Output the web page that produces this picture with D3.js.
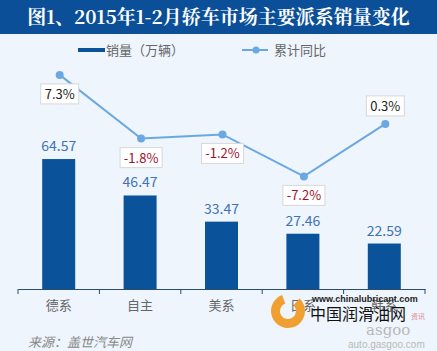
<!DOCTYPE html>
<html>
<head>
<meta charset="utf-8">
<script src="https://cdn.jsdelivr.net/npm/d3@7"></script>
<style>
  html, body { margin: 0; padding: 0; background: #eef5fc; }
  svg { display: block; font-family: "Noto Sans CJK SC", "Noto Sans", sans-serif; }
</style>
</head>
<body>
<div id="chart"></div>
<script>
"use strict";

const categories = ["德系", "自主", "美系", "日系", "韩系"];
const sales = [64.57, 46.47, 33.47, 27.46, 22.59];
const growth = [7.3, -1.8, -1.2, -7.2, 0.3];
const growthLabels = ["7.3%", "-1.8%", "-1.2%", "-7.2%", "0.3%"];
const labelAbove = [false, false, false, false, true];

const width = 437, height = 351;

const svg = d3.select("#chart").append("svg")
    .attr("width", width)
    .attr("height", height);

/* Background and title band */
svg.append("rect").attr("width", width).attr("height", height).attr("fill", "#eef5fc");
svg.append("rect").attr("width", width).attr("height", 34).attr("fill", "#0a4f97");
svg.append("text")
    .attr("x", width / 2).attr("y", 24)
    .attr("text-anchor", "middle")
    .attr("fill", "#fff")
    .attr("font-size", 19)
    .attr("font-weight", "bold")
    .attr("font-family", "'Noto Serif CJK SC', 'Noto Sans CJK SC', serif")
    .text("图1、2015年1-2月轿车市场主要派系销量变化");

/* Legend */
let legend = svg.append("g").attr("font-size", 13).attr("fill", "#666");
legend.append("rect").attr("x", 78).attr("y", 48).attr("width", 27).attr("height", 4).attr("fill", "#0a539b");
legend.append("text").attr("x", 106).attr("y", 55).text("销量（万辆）");
legend.append("line").attr("x1", 242).attr("x2", 268).attr("y1", 50).attr("y2", 50)
    .attr("stroke", "#6aa8e3").attr("stroke-width", 2);
legend.append("circle").attr("cx", 256).attr("cy", 50).attr("r", 3.5).attr("fill", "#6aa8e3");
legend.append("text").attr("x", 274).attr("y", 55).text("累计同比");

/* Scales */
const x = d3.scaleBand().domain(categories).range([18, 425]).paddingInner(0);
const y = d3.scaleLinear().domain([0, 80]).range([289, 128]);
const y2 = d3.scaleLinear().domain([-10, 10]).range([196, 56]);
const barWidth = 33;

/* Bars */
svg.append("g").selectAll("rect")
    .data(sales)
    .enter().append("rect")
    .attr("x", (d, i) => x(categories[i]) + x.bandwidth() / 2 - barWidth / 2)
    .attr("y", d => y(d))
    .attr("width", barWidth)
    .attr("height", d => y(0) - y(d))
    .attr("fill", "#0a539b");

svg.append("g").selectAll("text")
    .data(sales)
    .enter().append("text")
    .attr("x", (d, i) => x(categories[i]) + x.bandwidth() / 2)
    .attr("y", d => y(d) - 8)
    .attr("text-anchor", "middle")
    .attr("font-size", 14)
    .attr("fill", "#3f73b4")
    .text(d => d.toFixed(2));

/* Axis */
let axis = svg.append("g")
    .attr("transform", "translate(0," + y(0) + ")")
    .call(d3.axisBottom(x).tickSize(0).tickPadding(12));
axis.select(".domain").attr("stroke", "#2b4c6e").attr("stroke-width", 1.2);
axis.selectAll("text").attr("font-size", 13).attr("fill", "#666")
    .attr("font-family", "'Noto Sans CJK SC', sans-serif");
axis.selectAll(".edge")
    .data(d3.range(categories.length + 1))
    .enter().append("line")
    .attr("class", "edge")
    .attr("x1", i => 18 + i * x.bandwidth())
    .attr("x2", i => 18 + i * x.bandwidth())
    .attr("y1", 0).attr("y2", 5)
    .attr("stroke", "#2b4c6e");

/* Growth line */
const cx = (d, i) => x(categories[i]) + x.bandwidth() / 2 + 1;
svg.append("path")
    .datum(growth)
    .attr("fill", "none")
    .attr("stroke", "#6aa8e3")
    .attr("stroke-width", 2)
    .attr("d", d3.line().x(cx).y(d => y2(d)));

svg.append("g").selectAll("circle")
    .data(growth)
    .enter().append("circle")
    .attr("cx", cx)
    .attr("cy", d => y2(d))
    .attr("r", 4)
    .attr("fill", "#6aa8e3");

/* Growth labels in boxes */
let labels = svg.append("g").selectAll("g")
    .data(growth)
    .enter().append("g")
    .attr("transform", (d, i) => "translate(" + cx(d, i) + "," + (y2(d) + (labelAbove[i] ? -18 : 19)) + ")");
labels.append("rect")
    .attr("x", (d, i) => growthLabels[i].length > 4 ? -21 : -19)
    .attr("y", -10)
    .attr("width", (d, i) => growthLabels[i].length > 4 ? 42 : 38)
    .attr("height", 20)
    .attr("fill", "#fff")
    .attr("stroke", "#d8d8d8");
labels.append("text")
    .attr("text-anchor", "middle")
    .attr("y", 5)
    .attr("font-size", 13)
    .attr("fill", d => d < 0 ? "#a0102e" : "#222")
    .text((d, i) => growthLabels[i]);

/* Source */
svg.append("text")
    .attr("x", 28).attr("y", 347)
    .attr("font-size", 13)
    .attr("font-style", "italic")
    .attr("fill", "#888")
    .text("来源：盖世汽车网");

/* Watermark (sits over the last axis labels, as in the original) */
let wm = svg.append("g");
wm.append("path")
    .attr("transform", "translate(288,311)")
    .attr("d", d3.arc().innerRadius(8).outerRadius(17).startAngle(0.75).endAngle(2 * Math.PI - 0.35)())
    .attr("fill", "#f0a030");
wm.append("text").attr("x", 312).attr("y", 302).attr("font-size", 9).attr("font-weight", "bold").attr("fill", "#222")
    .attr("font-family", "Arial, 'Liberation Sans', sans-serif").text("www.chinalubricant.com");
wm.append("text").attr("x", 310).attr("y", 320).attr("font-size", 16).attr("fill", "#111").text("中国润滑油网");
wm.append("text").attr("x", 411).attr("y", 319).attr("font-size", 7).attr("fill", "#e08a9a").text("资讯");
wm.append("text").attr("x", 366).attr("y", 335).attr("font-size", 15).attr("fill", "#b9b9b9")
    .attr("font-family", "'DejaVu Serif', serif").text("asgoo");
wm.append("text").attr("x", 348).attr("y", 348).attr("font-size", 10).attr("fill", "#b9b9b9")
    .attr("font-family", "Arial, 'Liberation Sans', sans-serif").text("auto.gasgoo.com");
</script>
</body>
</html>
